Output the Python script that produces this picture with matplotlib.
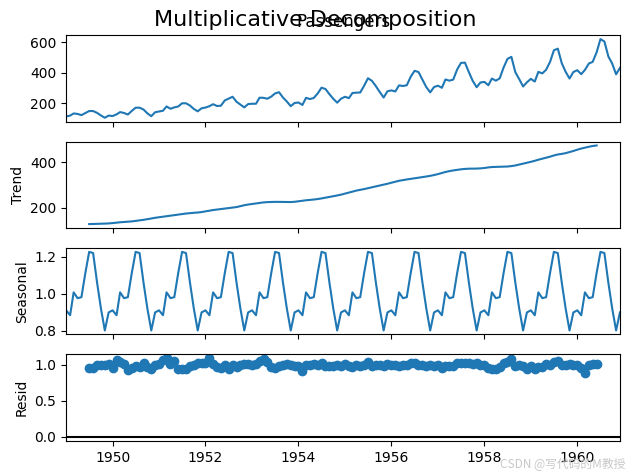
import matplotlib
matplotlib.use("Agg")
import matplotlib.pyplot as plt
import numpy as np
import pandas as pd

# monthly airline passengers, 1949-01 .. 1960-12
passengers = [
    112, 118, 132, 129, 121, 135, 148, 148, 136, 119, 104, 118,
    115, 126, 141, 135, 125, 149, 170, 170, 158, 133, 114, 140,
    145, 150, 178, 163, 172, 178, 199, 199, 184, 162, 146, 166,
    171, 180, 193, 181, 183, 218, 230, 242, 209, 191, 172, 194,
    196, 196, 236, 235, 229, 243, 264, 272, 237, 211, 180, 201,
    204, 188, 235, 227, 234, 264, 302, 293, 259, 229, 203, 229,
    242, 233, 267, 269, 270, 315, 364, 347, 312, 274, 237, 278,
    284, 277, 317, 313, 318, 374, 413, 405, 355, 306, 271, 306,
    315, 301, 356, 348, 355, 422, 465, 467, 404, 347, 305, 336,
    340, 318, 362, 348, 363, 435, 491, 505, 404, 359, 310, 337,
    360, 342, 406, 396, 420, 472, 548, 559, 463, 407, 362, 405,
    417, 391, 419, 461, 472, 535, 622, 606, 508, 461, 390, 432,
]
start_month = "1949-01-01"
period = 12

dates = pd.date_range(start_month, periods=len(passengers), freq="MS")
obs = np.array(passengers, dtype=float)

# classical multiplicative decomposition (centred 2x12 moving average)
filt = np.r_[0.5, np.ones(period - 1), 0.5] / period
trend = np.full(len(obs), np.nan)
half = period // 2
trend[half:len(obs) - half] = np.convolve(obs, filt, mode="valid")
detrended = obs / trend
period_avg = np.array([np.nanmean(detrended[i::period]) for i in range(period)])
period_avg /= period_avg.mean()
seasonal = np.tile(period_avg, len(obs) // period + 1)[:len(obs)]
resid = obs / (seasonal * trend)

fig, axs = plt.subplots(4, 1, sharex=True, figsize=(6.3, 4.75), dpi=100)
xlim = (dates[0], dates[-1])

axs[0].plot(dates, obs)
axs[0].set_title("Passengers")
axs[1].plot(dates, trend)
axs[1].set_ylabel("Trend")
axs[2].plot(dates, seasonal)
axs[2].set_ylabel("Seasonal")
axs[3].plot(dates, resid, marker="o", linestyle="none")
axs[3].plot(xlim, (0, 0), color="#000000", zorder=-3)
axs[3].set_ylabel("Resid")
for ax in axs:
    ax.set_xlim(xlim)

fig.subplots_adjust(left=0.105, right=0.984, top=0.926, bottom=0.072, hspace=0.23)
plt.suptitle("Multiplicative Decomposition", fontsize=16, y=0.978)
fig.text(0.992, 0.008, "CSDN @写代码的M教授", ha="right", va="bottom", fontsize=8.5,
         color="#c8c8c8", family=["Noto Sans CJK SC", "DejaVu Sans"])
fig.savefig("out.png")
